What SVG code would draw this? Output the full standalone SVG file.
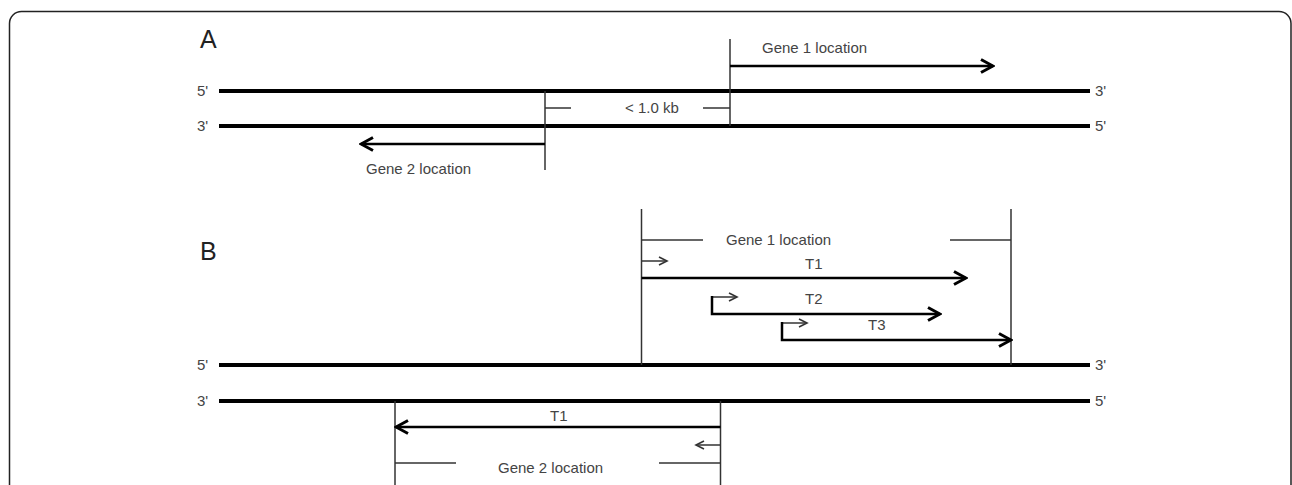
<svg xmlns="http://www.w3.org/2000/svg" width="1292" height="485" viewBox="0 0 1292 485">
<defs>
<style>
.strand{stroke:#000;stroke-width:4;fill:none}
.tick{stroke:#333;stroke-width:1.5;fill:none}
.arrow{stroke:#000;stroke-width:2.5;fill:none;marker-end:url(#headBig)}
.small{stroke:#333;stroke-width:1.5;fill:none;marker-end:url(#headSmall)}
.lbl{font-family:"Liberation Sans",Arial,sans-serif;font-size:15px;fill:#444}
.panel{font-family:"Liberation Sans",Arial,sans-serif;font-size:25px;fill:#222}
</style>
<marker id="headBig" markerUnits="userSpaceOnUse" viewBox="0 0 16 16" refX="14" refY="8" markerWidth="16" markerHeight="16" orient="auto">
<path d="M2,1.5 L14,8 L2,14.5" fill="none" stroke="#000" stroke-width="3"/>
</marker>
<marker id="headSmall" markerUnits="userSpaceOnUse" viewBox="0 0 12 12" refX="10" refY="6" markerWidth="12" markerHeight="12" orient="auto">
<path d="M2,2 L10,6 L2,10" fill="none" stroke="#333" stroke-width="1.6"/>
</marker>
</defs>
<rect x="9.5" y="11.5" width="1281.5" height="520" rx="12" fill="#fff" stroke="#222" stroke-width="1.5"/>

<g id="panelA">
<text class="panel" x="200" y="48">A</text>
<g id="A-strands">
<line class="strand" x1="219" y1="91" x2="1090" y2="91"/>
<line class="strand" x1="219" y1="126" x2="1090" y2="126"/>
<text class="lbl" x="197" y="96">5'</text>
<text class="lbl" x="197" y="131">3'</text>
<text class="lbl" x="1095" y="96">3'</text>
<text class="lbl" x="1095" y="131">5'</text>
</g>
<g id="A-gene1">
<text class="lbl" x="762" y="53">Gene 1 location</text>
</g>
<g id="A-gene2">
<text class="lbl" x="366" y="174">Gene 2 location</text>
</g>
<g id="A-distance">
<text class="lbl" x="625" y="113">&lt; 1.0 kb</text>
</g>
</g>

<g id="panelB">
<text class="panel" x="200" y="260">B</text>
<g id="B-strands">
<line class="strand" x1="219" y1="365" x2="1090" y2="365"/>
<line class="strand" x1="219" y1="401" x2="1090" y2="401"/>
<text class="lbl" x="197" y="370">5'</text>
<text class="lbl" x="197" y="406">3'</text>
<text class="lbl" x="1095" y="370">3'</text>
<text class="lbl" x="1095" y="406">5'</text>
</g>
<g id="B-gene1">
<text class="lbl" x="726" y="245">Gene 1 location</text>
<text class="lbl" x="805" y="269">T1</text>
<text class="lbl" x="805" y="304">T2</text>
<text class="lbl" x="868" y="330">T3</text>
</g>
<g id="B-gene2">
<text class="lbl" x="550" y="421">T1</text>
<text class="lbl" x="498" y="473">Gene 2 location</text>
</g>
</g>

<g id="connectors">
<!-- A -->
<line class="tick" x1="730" y1="39" x2="730" y2="126"/>
<line class="arrow" x1="730" y1="66" x2="993" y2="66"/>
<line class="tick" x1="545" y1="91" x2="545" y2="170"/>
<line class="arrow" x1="545" y1="144" x2="361" y2="144"/>
<line class="tick" x1="545" y1="108" x2="571" y2="108"/>
<line class="tick" x1="703" y1="108" x2="730" y2="108"/>
<!-- B gene 1 -->
<line class="tick" x1="641.5" y1="209" x2="641.5" y2="365"/>
<line class="tick" x1="1011" y1="209" x2="1011" y2="365"/>
<line class="tick" x1="641.5" y1="240" x2="703" y2="240"/>
<line class="tick" x1="950" y1="240" x2="1011" y2="240"/>
<line class="small" x1="641.5" y1="261" x2="667" y2="261"/>
<line class="arrow" x1="641.5" y1="278" x2="966" y2="278"/>
<line class="small" x1="712" y1="297" x2="737" y2="297"/>
<path class="arrow" d="M712,296 V314 H940"/>
<line class="small" x1="782" y1="323" x2="807" y2="323"/>
<path class="arrow" d="M782,322 V340 H1011"/>
<!-- B gene 2 -->
<line class="tick" x1="395" y1="401" x2="395" y2="490"/>
<line class="tick" x1="720.5" y1="401" x2="720.5" y2="490"/>
<line class="arrow" x1="720.5" y1="427" x2="396" y2="427"/>
<line class="small" x1="720.5" y1="445" x2="696" y2="445"/>
<line class="tick" x1="395" y1="463" x2="456" y2="463"/>
<line class="tick" x1="659" y1="463" x2="720.5" y2="463"/>
</g>
</svg>
